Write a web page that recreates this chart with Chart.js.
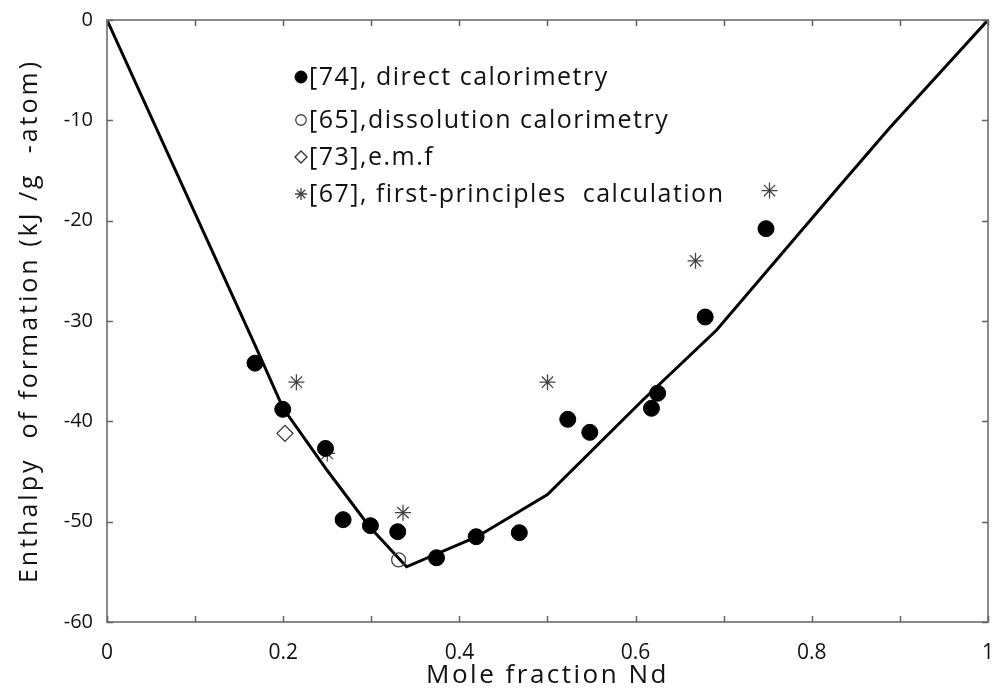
<!DOCTYPE html>
<html>
<head>
<meta charset="utf-8">
<script src="https://cdn.jsdelivr.net/npm/chart.js@4.4.1/dist/chart.umd.min.js"></script>
<style>
  html, body { margin: 0; padding: 0; background: #fff; overflow: hidden; }
  #wrap { width: 992px; height: 691px; overflow: hidden; }
  canvas { display: block; }
</style>
</head>
<body>
<div id="wrap"><canvas id="c" width="1004" height="691"></canvas></div>
<script>
/* ---------- data ---------- */
// calculated enthalpy curve
const curveX = [0, 0.168, 0.2, 0.25, 0.298, 0.34, 0.42, 0.5, 0.608, 0.692, 0.831, 0.888, 1];
const curveY = [0, -32.4, -38.7, -44.9, -50.5, -54.5, -51.5, -47.3, -37.9, -30.9, -16.6, -10.8, 0];

// [74] direct calorimetry
const directX = [0.168, 0.1995, 0.248, 0.268, 0.299, 0.330, 0.374, 0.419, 0.468, 0.523, 0.548, 0.618, 0.625, 0.679, 0.748];
const directY = [-34.2, -38.8, -42.7, -49.8, -50.4, -51.0, -53.6, -51.5, -51.1, -39.8, -41.1, -38.7, -37.2, -29.6, -20.8];

// [65] dissolution calorimetry
const dissX = [0.331];
const dissY = [-53.8];

// [73] e.m.f
const emfX = [0.202];
const emfY = [-41.2];

// [67] first-principles calculation
const fpX = [0.215, 0.25, 0.336, 0.5, 0.668, 0.752];
const fpY = [-36.1, -43.2, -49.1, -36.1, -24.0, -17.0];

const legendLabels = [
  '[74], direct calorimetry',
  '[65],dissolution calorimetry',
  '[73],e.m.f',
  '[67], first-principles  calculation'
];

const xTitle = 'Mole fraction Nd';
const yTitle = 'Enthalpy  of formation (kJ /g  -atom)';

/* ---------- helpers ---------- */
const pts = (xs, ys) => xs.map((x, i) => ({ x, y: ys[i] }));
const FONT = '"Open Sans", "Noto Sans", sans-serif';
const AXIS_GRAY = '#8a8a8a';

/* ---------- box + inward ticks ---------- */
const boxPlugin = {
  id: 'box',
  afterDraw(chart) {
    const { ctx, chartArea: a, scales } = chart;
    ctx.save();
    ctx.strokeStyle = AXIS_GRAY;
    ctx.lineWidth = 2;
    ctx.strokeRect(a.left, a.top, a.right - a.left, a.bottom - a.top);
    ctx.lineWidth = 1.5;
    ctx.strokeStyle = '#666';
    const tl = 6;
    scales.x.ticks.forEach(t => {
      const px = Math.round(scales.x.getPixelForValue(t.value)) + 0.5;
      ctx.beginPath();
      ctx.moveTo(px, a.bottom); ctx.lineTo(px, a.bottom - tl);
      ctx.moveTo(px, a.top); ctx.lineTo(px, a.top + tl);
      ctx.stroke();
    });
    scales.y.ticks.forEach(t => {
      const py = Math.round(scales.y.getPixelForValue(t.value)) + 0.5;
      ctx.beginPath();
      ctx.moveTo(a.left, py); ctx.lineTo(a.left + tl, py);
      ctx.moveTo(a.right, py); ctx.lineTo(a.right - tl, py);
      ctx.stroke();
    });

    // axis titles (loose letter spacing like the source figure)
    ctx.fillStyle = '#111';
    ctx.textAlign = 'center';
    ctx.textBaseline = 'middle';
    ctx.letterSpacing = '2.5px';
    ctx.font = '26px ' + FONT;
    ctx.fillText(xTitle, (a.left + a.right) / 2, 676);
    ctx.letterSpacing = '3px';
    ctx.font = '25px ' + FONT;
    ctx.translate(30, (a.top + a.bottom) / 2);
    ctx.rotate(-Math.PI / 2);
    ctx.fillText(yTitle, 0, 0);
    ctx.restore();
  }
};

/* ---------- legend drawn inside the axes ---------- */
const legendPlugin = {
  id: 'innerLegend',
  afterDatasetsDraw(chart) {
    const { ctx } = chart;
    const rows = [
      { y: 77,  ds: chart.data.datasets[1] },
      { y: 120, ds: chart.data.datasets[2] },
      { y: 157, ds: chart.data.datasets[3] },
      { y: 194, ds: chart.data.datasets[4] }
    ];
    ctx.save();
    ctx.textBaseline = 'middle';
    rows.forEach((r, i) => {
      const ds = r.ds;
      ctx.fillStyle = ds.backgroundColor;
      ctx.strokeStyle = ds.borderColor;
      ctx.lineWidth = ds.borderWidth;
      Chart.helpers.drawPoint(ctx, {
        pointStyle: ds.pointStyle,
        radius: ds.pointRadius * 0.75,
        rotation: 0,
        borderWidth: ds.borderWidth
      }, 301, r.y);
      ctx.fillStyle = '#111';
      ctx.font = '25px ' + FONT;
      ctx.letterSpacing = '1.5px';
      ctx.fillText(legendLabels[i], 309, r.y + 1);
    });
    ctx.restore();
  }
};

new Chart(document.getElementById('c'), {
  type: 'scatter',
  data: {
    datasets: [
      {
        type: 'line',
        label: 'calculated',
        data: pts(curveX, curveY),
        borderColor: '#000',
        borderWidth: 3,
        pointRadius: 0,
        tension: 0,
        fill: false,
        order: 5
      },
      {
        label: legendLabels[0],
        data: pts(directX, directY),
        pointStyle: 'circle',
        pointRadius: 8,
        backgroundColor: '#000',
        borderColor: '#000',
        borderWidth: 1
      },
      {
        label: legendLabels[1],
        data: pts(dissX, dissY),
        pointStyle: 'circle',
        pointRadius: 7,
        backgroundColor: 'rgba(0,0,0,0)',
        borderColor: '#444',
        borderWidth: 1.3
      },
      {
        label: legendLabels[2],
        data: pts(emfX, emfY),
        pointStyle: 'rectRot',
        pointRadius: 8,
        backgroundColor: 'rgba(0,0,0,0)',
        borderColor: '#333',
        borderWidth: 1.3
      },
      {
        label: legendLabels[3],
        data: pts(fpX, fpY),
        pointStyle: 'star',
        pointRadius: 8,
        backgroundColor: 'rgba(0,0,0,0)',
        borderColor: '#444',
        borderWidth: 1.3
      }
    ]
  },
  options: {
    responsive: false,
    animation: false,
    layout: { padding: { top: 20, right: 0, left: 0, bottom: 0 } },
    plugins: {
      legend: { display: false },
      tooltip: { enabled: false }
    },
    scales: {
      x: {
        type: 'linear',
        min: 0, max: 1,
        ticks: {
          stepSize: 0.1,
          color: '#111',
          font: { family: FONT, size: 21 },
          padding: 10,
          maxRotation: 0,
          autoSkip: false,
          callback: v => {
            const k = Math.round(v * 10);
            return k % 2 === 0 ? String(k / 10) : '';
          }
        },
        grid: { display: false },
        border: { display: false },
        afterFit: s => { s.height = 69; }
      },
      y: {
        type: 'linear',
        min: -60, max: 0,
        ticks: {
          stepSize: 10,
          color: '#111',
          font: { family: FONT, size: 20 },
          padding: 6
        },
        grid: { display: false },
        border: { display: false },
        afterFit: s => { s.width = 107; }
      }
    }
  },
  plugins: [boxPlugin, legendPlugin]
});
</script>
</body>
</html>
